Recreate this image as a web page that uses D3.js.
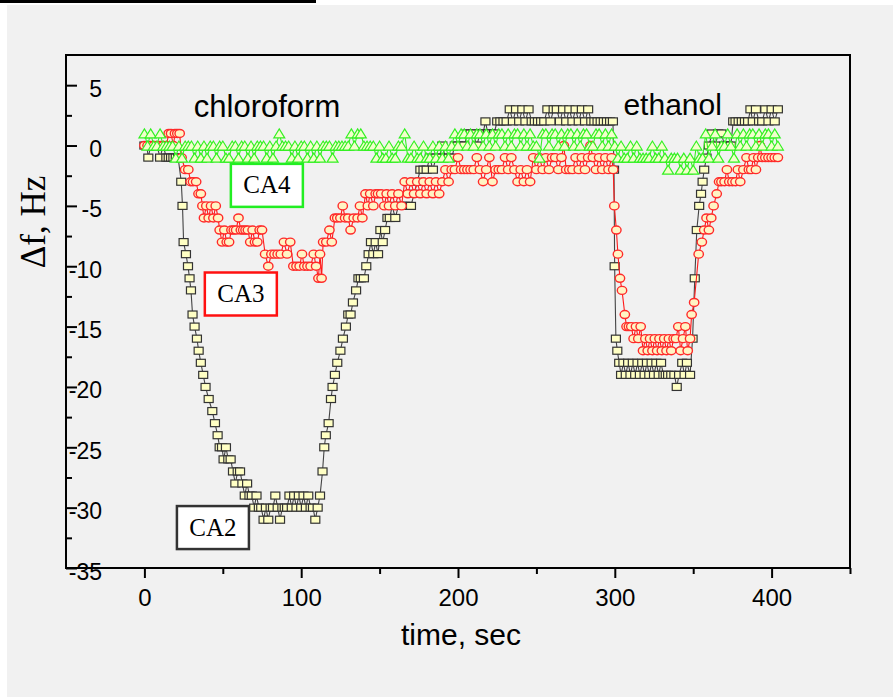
<!DOCTYPE html>
<html>
<head>
<meta charset="utf-8">
<script src="https://cdn.jsdelivr.net/npm/d3@7"></script>
<style>
  html, body { margin: 0; padding: 0; background: #fff; }
  svg { display: block; }
</style>
</head>
<body>
<div id="app"></div>
<script>
// sensor responses, [time (sec), delta f (Hz)]
const ca2 = [
  [0,0],[1.5,0],[2.5,-1],[4,0],[6,0],[8,0],[10,-1],[12,0],[14,-1],[15.5,-1],[17,-1],[18.5,-1],[20,-1],[21.5,-1],
  [23.5,-3],[24.3,-5],[25,-8],[26.5,-9],[27.8,-10],[28.8,-11],[29.7,-12],[30.7,-14],[32,-15],[33.5,-16],[34.6,-17],
  [36,-18],[37.5,-19],[39,-20],[41,-21],[43.3,-22],[45,-23],[46.7,-24],[48,-25],[49.5,-25],[50.5,-26],[52,-25],
  [53.5,-26],[55,-26],[56.5,-27],[58,-28],[59.5,-27],[61,-27],[62.5,-28],[64,-29],[65.5,-28],[67,-29],[68.5,-29],
  [70,-30],[71.5,-29],[73,-30],[74.5,-30],[76,-31],[77.5,-30],[79,-31],[80.5,-30],[82,-30],[83.5,-29],[85,-30],
  [86.5,-31],[88,-30],[89.5,-30],[91,-30],[92.5,-29],[94,-30],[95.5,-29],[97,-30],[98.5,-29],[100,-30],[101.5,-29],
  [103,-30],[104.5,-29],[106,-30],[107.5,-30],[109,-31],[110.5,-30],[112,-29],[113.6,-27],[114.7,-25],[115.7,-24],
  [117.5,-23],[119,-21],[120,-20],[121.5,-19],[123,-18],[125,-17],[126.6,-16],[128.5,-15],[130,-14],[131.5,-14],
  [133,-13],[135,-12],[136.5,-11],[138,-11],[140,-11],[141.5,-10],[143,-9],[144.5,-8],[146,-9],[147.5,-8],[149,-9],
  [150.5,-7],[152,-8],[153.5,-7],[155,-6],[156.5,-6],[158,-5],[160,-6],[162,-5],[164,-5],[166,-5],[168,-5],[170,-5],
  [172,-4],[174,-3],[176,-2],[178,-2],[180,-2],[182,-1],[184,-2],[186,-1],[188,-1],[190,0],[192,-1],[194,-1],[196,-1],
  [198,0],[200,0],[202,0],[204,0],[206,1],[208,1],[210,1],[212,0],[214,1],[216,1],[217.5,2],[219,1],[221,1],[223,1],
  [225,2],[227,2],[229,2],[231,2],[233,3],[235,2],[237,3],[239,2],[241,3],[243,2],[245,3],[247,2],[249,2],[251,2],
  [253,2],[255,2],[257,3],[259,2],[261,3],[263,3],[265,2],[267,3],[269,2],[271,3],[273,2],[275,3],[277,2],[279,3],
  [281,2],[283,3],[285,2],[287,2],[289,2],[291,2],[293,2],[295,2],[297,2],[298.8,2],[299.5,-2],[299.9,-10],
  [300.7,-16],[301.6,-17],[302.8,-18],[304,-19],[305.5,-18],[307,-19],[308.5,-18],[310,-19],[311.5,-18],[313,-19],
  [314.5,-18],[316,-19],[317.5,-18],[319,-19],[320.5,-18],[322,-19],[323.5,-18],[325,-19],[326.5,-18],[328,-19],
  [329.5,-18],[331,-19],[332.5,-19],[334,-19],[336,-19],[338,-19],[339.5,-20],[341,-19],[343,-18],[344.5,-19],
  [346,-18],[348,-19],[349.6,-16],[351,-11],[352.3,-7],[353.8,-5],[355,-4],[356,-3],[357,-2],[358.5,-1],[360,0],
  [362,1],[364,0],[366,1],[368,1],[370,0],[372,0],[374,0],[375.5,2],[377,2],[379,2],[381,2],[383,2],[385,2],
  [386.5,3],[388,2],[390,3],[392,2],[394,2],[396,3],[398,2],[400,3],[402,2],[404,3]
]

const ca3 = [
  [0,0],[2,0],[4,0],[6,0],[8,0],[10,0],[12,0],[14,0],[15.5,1],[17,1],[18.5,0],[19.5,1],[21,1],[22.5,1],[23.7,-1],
  [26,-2],[28,-2],[29.5,-3],[31,-3],[33,-3],[34.5,-4],[36,-4],[37,-5],[38,-6],[39.5,-5],[41,-6],[42.5,-5],[44,-6],
  [45.5,-5],[47,-6],[48,-7],[49.5,-8],[51,-7],[52.5,-8],[54,-8],[55.5,-7],[57,-7],[58.5,-7],[60,-6],[61.5,-7],
  [63,-7],[64.5,-7],[66,-7],[67.5,-8],[69,-7],[70.5,-8],[72,-8],[73.5,-7],[75,-7],[77,-9],[79,-10],[81,-9],[83,-9],
  [85,-9],[87,-9],[89,-8],[91,-9],[93,-8],[95,-10],[97,-10],[99,-10],[100.5,-9],[102,-10],[104,-10],[106,-10],
  [108,-9],[109.5,-10],[111,-11],[112,-9],[113,-11],[114,-8],[116,-8],[118,-7],[119.5,-8],[121.5,-6],[123,-6],
  [125,-6],[126.5,-5],[128,-6],[130,-6],[131.5,-7],[133.5,-6],[136,-6],[137.5,-5],[139,-6],[141,-4],[142.5,-5],
  [144,-4],[146,-5],[147.5,-4],[149,-4],[151,-4],[153,-5],[154.5,-4],[156,-5],[158,-4],[160,-5],[162,-4],[164,-5],
  [166,-3],[168,-4],[170,-3],[172,-4],[174,-3],[176,-4],[178,-3],[180,-4],[182,-3],[184,-4],[186,-3],[188,-4],
  [190,-3],[192,-2],[194,-3],[196,-2],[198,-2],[200,-1],[202,-2],[204,-2],[206,-2],[208,-2],[210,-2],[212,-1],
  [214,-2],[216,-3],[218,-2],[220,-1],[222,-3],[224,-2],[226,-2],[228,-2],[230,-1],[232,-2],[234,-1],[236,-2],
  [238,-3],[240,-2],[242,-3],[244,-2],[246,-3],[248,-1],[250,-2],[252,-1],[254,-2],[256,-1],[258,-2],[260,-1],
  [262,-1],[264,-2],[266,-1],[267.5,0],[269,-2],[271,-2],[273,-2],[275,-1],[277,-2],[279,-1],[281,-2],[283,-1],
  [284.5,0],[286,-1],[288,-2],[290,-1],[292,-2],[294,-1],[296,-2],[298,-1],[299,-2],[299.7,-5],[301,-7],[302,-9],
  [303.3,-11],[304.6,-12],[306.4,-14],[307.5,-15],[309,-15],[310.5,-15],[312,-16],[313.5,-15],[315,-16],
  [316.5,-15],[318,-17],[319.5,-16],[321,-17],[322.5,-16],[324,-17],[325.5,-16],[327,-17],[328.5,-16],[330,-17],
  [331.5,-16],[333,-17],[334.5,-16],[336,-17],[337.5,-16],[339,-16],[340.5,-15],[342,-17],[343.5,-16],[345,-15],
  [346.5,-17],[348,-16],[349,-14],[350.6,-13],[353.5,-9],[355.5,-8],[357,-7],[358.5,-6],[360,-7],[361.5,-6],
  [363,-5],[365,-4],[366.5,-3],[368,-3],[370,-3],[371.5,-2],[373,-3],[375,-3],[377,-3],[378.5,-2],[380,-3],
  [382,-2],[384,-1],[385.5,-2],[387,-2],[388.5,-1],[390,-2],[391.5,-1],[392.5,0],[394,-1],[396,-1],[398,-1],
  [400,-1],[402,-1],[404,-1]
]

const ca4 = [
  [0,1],[2,0],[4,1],[6,0],[8,0],[10,1],[12,0],[14,0],[16,0],[18,0],[20,-1],[22,0],[24,-1],[26,0],[28,0],[30,0],
  [32,-1],[34,0],[36,-1],[38,0],[40,-1],[42,0],[44,0],[46,-1],[48,0],[50,0],[52,-1],[54,-1],[56,0],[58,0],[60,-1],
  [62,0],[64,0],[66,-1],[68,0],[70,-1],[72,0],[74,0],[76,0],[78,-1],[80,0],[82,-1],[84,0],[86,1],[88,0],[90,0],
  [92,0],[94,-1],[96,0],[98,-1],[100,0],[102,0],[104,-1],[106,0],[108,-1],[110,0],[112,-1],[114,0],[116,0],[118,0],
  [120,-1],[122,0],[124,0],[126,0],[128,0],[130,0],[132,1],[134,0],[136,1],[138,1],[140,0],[142,0],[144,0],[146,0],
  [148,-1],[150,0],[152,-1],[154,-1],[156,0],[158,-1],[160,-1],[162,0],[164,0],[166,1],[168,-1],[170,-1],[172,0],
  [174,-1],[176,-1],[178,0],[180,-1],[182,-1],[184,0],[186,-1],[188,0],[190,-1],[192,0],[194,-1],[196,0],[198,1],
  [200,0],[202,1],[204,1],[206,0],[208,1],[210,0],[212,1],[214,1],[216,0],[218,1],[220,0],[222,1],[224,0],[226,1],
  [228,1],[230,0],[232,1],[234,0],[236,1],[238,1],[240,0],[242,1],[244,0],[246,1],[248,0],[250,0],[252,-1],[254,1],
  [256,1],[258,0],[260,1],[262,1],[264,0],[266,1],[268,0],[270,1],[272,1],[274,0],[276,1],[278,0],[280,1],[282,1],
  [284,0],[286,0],[288,1],[290,1],[292,0],[294,1],[296,0],[298,1],[300,0],[302,-1],[304,0],[306,-1],[308,-1],
  [310,0],[312,-1],[314,0],[316,-1],[318,-1],[320,-1],[322,-1],[324,0],[326,-1],[328,-1],[330,0],[332,-1],
  [334,-2],[336,-1],[338,-1],[340,-1],[342,-2],[344,-1],[346,-2],[348,-1],[350,-2],[352,0],[354,-1],[356,-1],
  [358,1],[360,-1],[362,0],[364,1],[366,-1],[368,0],[370,0],[372,1],[374,0],[376,-1],[378,1],[380,0],[382,1],
  [384,0],[386,1],[388,1],[390,0],[392,1],[394,0],[396,1],[398,1],[400,0],[402,1],[404,0]
]

const xTicks = [0, 100, 200, 300, 400]
const xMinorTicks = [50, 150, 250, 350, 450]
const yTicks = [5, 0, -5, -10, -15, -20, -25, -30, -35]
const yMinorTicks = [2.5, -2.5, -7.5, -12.5, -17.5, -22.5, -27.5, -32.5]

const width = 893
const height = 697
const margin = { top: 55, right: 43, bottom: 129, left: 66 }
const plotW = width - margin.left - margin.right
const plotH = height - margin.top - margin.bottom
const sans = '"Liberation Sans", Arial, Helvetica, sans-serif'
const serif = '"Liberation Serif", "Times New Roman", serif'

const svg = d3.select('#app').append('svg')
  .attr('width', width)
  .attr('height', height)

// page background: white edge, grey panel, black strip at the top
svg.append('rect').attr('width', width).attr('height', height).attr('fill', '#ffffff')
svg.append('rect').attr('x', 7).attr('y', 5).attr('width', width - 7).attr('height', height - 5).attr('fill', '#f1f1f1')
svg.append('rect').attr('x', 0).attr('y', 0).attr('width', 316).attr('height', 3).attr('fill', '#000')

const x = d3.scaleLinear().domain([-50, 450]).range([0, plotW])
const y = d3.scaleLinear().domain([-35, 7.5]).range([plotH, 0])

const g = svg.append('g').attr('transform', `translate(${margin.left},${margin.top})`)

// y axis, ticks point inward, labels sit inside the frame
const yAxis = g.append('g')
  .call(d3.axisRight(y).tickValues(yTicks).tickSize(11).tickFormat(d => String(d)))
yAxis.select('.domain').remove()
yAxis.selectAll('line').attr('stroke', '#000').attr('stroke-width', 2)
yAxis.selectAll('text')
  .attr('x', 36)
  .attr('y', 11)
  .attr('dy', null)
  .attr('text-anchor', 'end')
  .attr('fill', '#000')
  .style('font-family', sans)
  .style('font-size', '23px')

const yMinor = g.append('g')
  .call(d3.axisRight(y).tickValues(yMinorTicks).tickSize(6).tickFormat(''))
yMinor.select('.domain').remove()
yMinor.selectAll('line').attr('stroke', '#000').attr('stroke-width', 2)

// x axis
const xAxis = g.append('g')
  .attr('transform', `translate(0,${plotH})`)
  .call(d3.axisBottom(x).tickValues(xTicks).tickSize(10).tickFormat(d => String(d)))
xAxis.select('.domain').remove()
xAxis.selectAll('line').attr('stroke', '#000').attr('stroke-width', 2)
xAxis.selectAll('text')
  .attr('y', 38)
  .attr('dy', null)
  .attr('fill', '#000')
  .style('font-family', sans)
  .style('font-size', '24px')

const xMinor = g.append('g')
  .attr('transform', `translate(0,${plotH})`)
  .call(d3.axisBottom(x).tickValues(xMinorTicks).tickSize(6).tickFormat(''))
xMinor.select('.domain').remove()
xMinor.selectAll('line').attr('stroke', '#000').attr('stroke-width', 2)

// frame
g.append('rect')
  .attr('width', plotW)
  .attr('height', plotH)
  .attr('fill', 'none')
  .attr('stroke', '#000')
  .attr('stroke-width', 2)

// axis titles
g.append('text')
  .attr('x', plotW * 0.5 + 3)
  .attr('y', plotH + 77)
  .attr('text-anchor', 'middle')
  .style('font-family', sans)
  .style('font-size', '30px')
  .text('time, sec')

svg.append('text')
  .attr('transform', 'translate(45,222) rotate(-90)')
  .attr('text-anchor', 'middle')
  .style('font-family', serif)
  .style('font-size', '35px')
  .text('Δf, Hz')

const line = d3.line().x(d => x(d[0])).y(d => y(d[1]))

// CA2: squares
g.append('path').datum(ca2)
  .attr('d', line).attr('fill', 'none').attr('stroke', '#444').attr('stroke-width', 1.1)
g.selectAll('rect.ca2').data(ca2).join('rect')
  .attr('class', 'ca2')
  .attr('x', d => x(d[0]) - 4.5)
  .attr('y', d => y(d[1]) - 3.5)
  .attr('width', 9)
  .attr('height', 7)
  .attr('fill', '#ffffc4')
  .attr('stroke', '#333')
  .attr('stroke-width', 1.2)

// CA3: circles
g.append('path').datum(ca3)
  .attr('d', line).attr('fill', 'none').attr('stroke', '#ff1a1a').attr('stroke-width', 1.1)
g.selectAll('ellipse.ca3').data(ca3).join('ellipse')
  .attr('class', 'ca3')
  .attr('cx', d => x(d[0]))
  .attr('cy', d => y(d[1]))
  .attr('rx', 4.7)
  .attr('ry', 4)
  .attr('fill', '#fff4c4')
  .attr('stroke', '#ff2a2a')
  .attr('stroke-width', 1.4)

// CA4: triangles
g.append('path').datum(ca4)
  .attr('d', line).attr('fill', 'none').attr('stroke', '#33f022').attr('stroke-width', 1.1)
g.selectAll('path.ca4').data(ca4).join('path')
  .attr('class', 'ca4')
  .attr('d', d => {
    const cx = x(d[0]), cy = y(d[1])
    return `M${cx - 5.5},${cy + 4.5}L${cx},${cy - 4.5}L${cx + 5.5},${cy + 4.5}Z`
  })
  .attr('fill', '#f2ffcc')
  .attr('stroke', '#33f022')
  .attr('stroke-width', 1.2)

// solvent annotations
g.append('text')
  .attr('x', x(31.5)).attr('y', y(2.35))
  .style('font-family', sans).style('font-size', '31px')
  .text('chloroform')
g.append('text')
  .attr('x', x(305.5)).attr('y', y(2.5))
  .style('font-family', sans).style('font-size', '30px')
  .text('ethanol')

// sensor label boxes
const boxes = [
  { name: 'CA4', t: 78.1, v: -3.3, color: '#22ee22' },
  { name: 'CA3', t: 61.5, v: -12.3, color: '#ff1010' },
  { name: 'CA2', t: 43.7, v: -31.65, color: '#333333' }
]
const box = g.selectAll('g.box').data(boxes).join('g')
  .attr('class', 'box')
  .attr('transform', d => `translate(${x(d.t)},${y(d.v)})`)
box.append('rect')
  .attr('x', -36).attr('y', -21.5).attr('width', 72).attr('height', 43)
  .attr('fill', '#fff')
  .attr('stroke', d => d.color)
  .attr('stroke-width', 2.5)
box.append('text')
  .attr('text-anchor', 'middle')
  .attr('y', 8)
  .style('font-family', serif)
  .style('font-size', '25px')
  .text(d => d.name)
</script>
</body>
</html>
